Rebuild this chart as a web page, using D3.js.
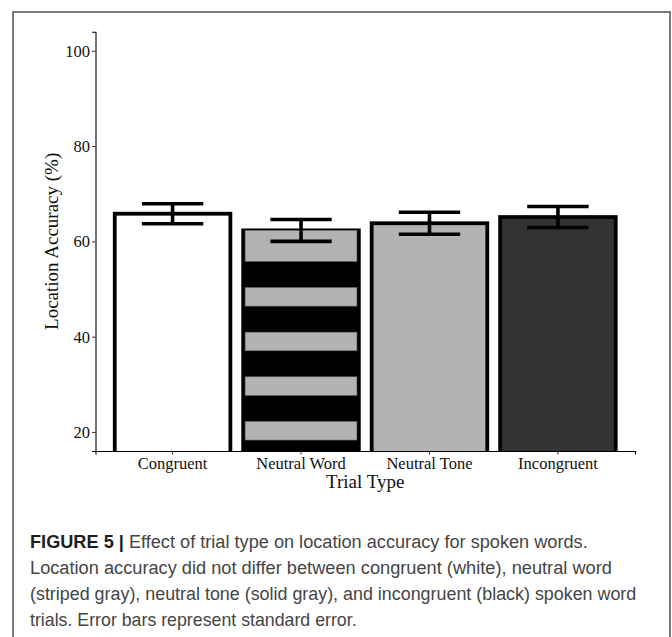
<!DOCTYPE html>
<html>
<head>
<meta charset="utf-8">
<script src="https://cdn.jsdelivr.net/npm/d3@7"></script>
<style>
  html, body { margin: 0; padding: 0; background: #fff; }
  svg { display: block; }
</style>
</head>
<body>
<script>
// Location accuracy by trial type (means with standard errors)
const categories = ["Congruent", "Neutral Word", "Neutral Tone", "Incongruent"];
const meanAccuracy = [65.8, 62.3, 63.8, 65.1];
const stdError = [2.1, 2.3, 2.3, 2.2];
const yTicks = [20, 40, 60, 80, 100];
const barFills = ["#ffffff", "striped", "#b3b3b3", "#333333"];

const captionLines = [
  { bold: "FIGURE 5 | ", text: "Effect of trial type on location accuracy for spoken words." },
  { bold: "", text: "Location accuracy did not differ between congruent (white), neutral word" },
  { bold: "", text: "(striped gray), neutral tone (solid gray), and incongruent (black) spoken word" },
  { bold: "", text: "trials. Error bars represent standard error." }
];

const W = 672, H = 637;
const panel = { left: 95.5, right: 635, top: 31.7, bottom: 451 };
const serif = "'Liberation Serif', 'Times New Roman', serif";

const svg = d3.select("body").append("svg")
  .attr("width", W).attr("height", H);

// figure frame
svg.append("path")
  .attr("d", `M13,${H + 5} V12 H670 V${H + 5}`)
  .attr("fill", "none")
  .attr("stroke", "#7a7a7a")
  .attr("stroke-width", 2);

const x = d3.scaleBand()
  .domain(categories)
  .range([panel.left, panel.right])
  .paddingInner(0.1)
  .paddingOuter(0.15);

const y = d3.scaleLinear()
  .domain([16, 104])
  .range([panel.bottom, panel.top]);

const data = categories.map((c, i) => ({
  cat: c, mean: meanAccuracy[i], se: stdError[i], fill: barFills[i]
}));

svg.append("clipPath").attr("id", "panel-clip")
  .append("rect")
  .attr("x", panel.left).attr("y", panel.top)
  .attr("width", panel.right - panel.left)
  .attr("height", panel.bottom - panel.top);

const plot = svg.append("g").attr("clip-path", "url(#panel-clip)");

const barStroke = 3.8;
const bars = plot.selectAll("g.bar").data(data).join("g").attr("class", "bar");

// bar bodies (run below the visible panel floor, clipped)
bars.append("rect")
  .attr("x", d => x(d.cat))
  .attr("y", d => y(d.mean))
  .attr("width", x.bandwidth())
  .attr("height", d => y(0) - y(d.mean))
  .attr("fill", d => d.fill === "striped" ? "#000" : d.fill);

// horizontal stripes for the neutral-word bar (gray bands on black)
const stripeStart = 18.3, stripePeriod = 9.37, stripeGray = 3.9;
data.filter(d => d.fill === "striped").forEach(d => {
  const bands = [];
  for (let lo = stripeStart; lo < d.mean; lo += stripePeriod) {
    const last = lo + stripePeriod >= d.mean;
    bands.push([lo, last ? d.mean : Math.min(lo + stripeGray, d.mean)]);
  }
  const inset = barStroke / 2;
  plot.selectAll(null).data(bands).join("rect")
    .attr("x", x(d.cat) + inset)
    .attr("width", x.bandwidth() - 2 * inset)
    .attr("y", b => y(b[1]))
    .attr("height", b => y(b[0]) - y(b[1]))
    .attr("fill", "#b3b3b3")
    .attr("stroke", "#6a6a6a")
    .attr("stroke-width", 0.6);
});

// bar outlines on top
bars.append("rect")
  .attr("x", d => x(d.cat))
  .attr("y", d => y(d.mean))
  .attr("width", x.bandwidth())
  .attr("height", d => y(0) - y(d.mean))
  .attr("fill", "none")
  .attr("stroke", "#000")
  .attr("stroke-width", barStroke);

// error bars
const capHalf = x.step() * 0.225;
plot.selectAll("path.err").data(data).join("path")
  .attr("class", "err")
  .attr("d", d => {
    const cx = x(d.cat) + x.bandwidth() / 2;
    const yt = y(d.mean + d.se), yb = y(d.mean - d.se);
    return `M${cx - capHalf},${yt}H${cx + capHalf}M${cx},${yt}V${yb}M${cx - capHalf},${yb}H${cx + capHalf}`;
  })
  .attr("fill", "none")
  .attr("stroke", "#000")
  .attr("stroke-width", 3.6)
  .attr("stroke-linecap", "square");

// axes
const yAxis = svg.append("g")
  .attr("transform", `translate(${panel.left},0)`)
  .call(d3.axisLeft(y).tickValues(yTicks).tickSize(3.5).tickPadding(2));
const xAxis = svg.append("g")
  .attr("transform", `translate(0,${panel.bottom})`)
  .call(d3.axisBottom(x).tickSize(3.5).tickPadding(3));

[yAxis, xAxis].forEach(g => {
  g.attr("font-family", serif).attr("font-size", 16.5);
  g.select(".domain").attr("stroke", "#000").attr("stroke-width", 1.1);
  g.selectAll(".tick line").attr("stroke", "#333").attr("stroke-width", 1);
  g.selectAll(".tick text")
    .style("font-family", serif)
    .style("font-size", "16.5px")
    .attr("fill", "#111");
});
yAxis.selectAll(".tick text").attr("dy", "0.34em");
xAxis.selectAll(".tick text").attr("dy", "0.71em");

// axis titles
svg.append("text")
  .attr("transform", `translate(58,${(panel.top + panel.bottom) / 2}) rotate(-90)`)
  .attr("text-anchor", "middle")
  .attr("font-family", serif)
  .attr("font-size", 19)
  .attr("fill", "#111")
  .text("Location Accuracy (%)");

svg.append("text")
  .attr("x", (panel.left + panel.right) / 2)
  .attr("y", 487.5)
  .attr("text-anchor", "middle")
  .attr("font-family", serif)
  .attr("font-size", 19)
  .attr("fill", "#111")
  .text("Trial Type");

// caption: condensed sans lines, each squeezed horizontally to its set width
const captionWidths = [558, 582, 607, 327];
const cap = svg.append("g")
  .attr("font-family", "'Liberation Sans Narrow', 'Liberation Sans', Arial, sans-serif")
  .attr("font-size", 19);
captionLines.forEach((ln, i) => {
  const t = cap.append("text")
    .attr("x", 0)
    .attr("y", 0)
    .attr("fill", "#454545");
  if (ln.bold) {
    t.append("tspan").attr("font-weight", "bold").attr("fill", "#1e1e1e").text(ln.bold);
  }
  t.append("tspan").text(ln.text);
  const natural = t.node().getComputedTextLength();
  const sx = natural > 0 ? captionWidths[i] / natural : 1;
  t.attr("transform", `translate(30,${547.5 + i * 26}) scale(${sx},1)`);
});
</script>
</body>
</html>
